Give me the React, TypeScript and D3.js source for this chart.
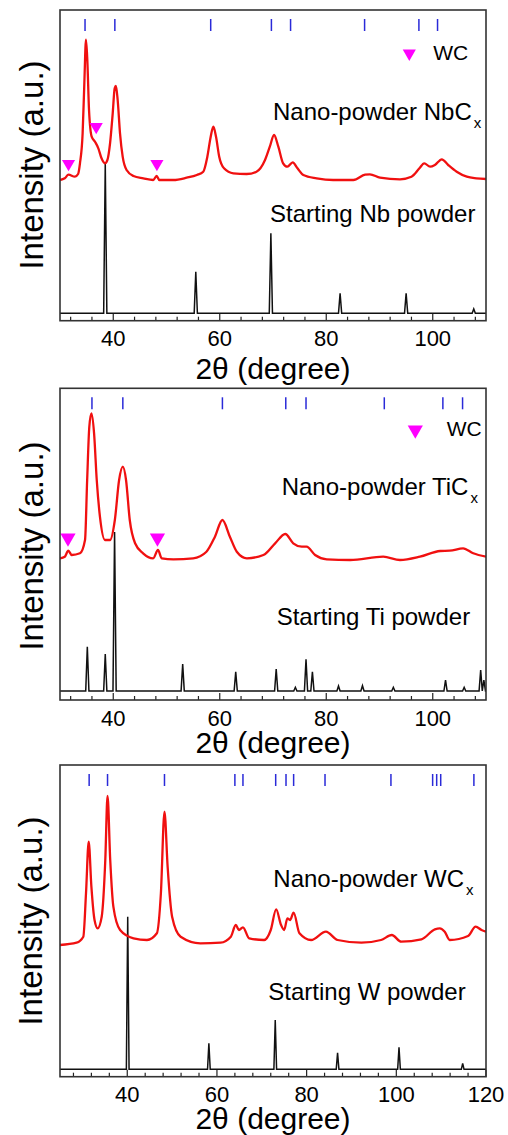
import * as d3 from "d3";

// reference reflections (2θ) drawn as blue bars at the top of each panel
const nbcRefs = [34.7, 40.3, 58.3, 69.7, 73.3, 87.2, 97.4, 100.9];
const ticRefs = [36.0, 41.8, 60.5, 72.4, 76.2, 90.9, 101.9, 105.6];
const wcRefs = [31.5, 35.6, 48.3, 64.0, 65.8, 73.1, 75.4, 77.1, 84.1, 98.8, 108.1, 109.0, 109.9, 117.3];

// WC impurity markers [2θ, intensity]
const nbcWcMarks = [[31.6, 157], [36.8, 194], [48.2, 157]];
const ticWcMarks = [[31.5, 162], [48.3, 162]];

// nano-powder scans [2θ, intensity]
const nbcxScan = [
  [30, 140.7], [30.9, 142.4], [31.6, 146], [32.8, 144], [33.4, 146.7], [33.75, 157.4],
  [34.25, 187.4], [34.57, 237.4], [34.88, 281], [35.13, 260.7], [35.45, 210.7], [35.95, 184],
  [36.57, 179], [37.2, 172.4], [37.8, 162.4], [38.45, 157.4], [38.9, 160.7], [39.4, 177.4],
  [39.9, 207.4], [40.27, 232.4], [40.5, 234.7], [40.83, 220.7], [41.27, 187.4], [41.77, 164],
  [42.5, 150.7], [43.8, 144.7], [45.65, 142.4], [47.5, 140.7], [48.15, 144.7], [48.65, 140.7],
  [51.3, 140.7], [53.8, 143], [55.7, 145.7], [56.9, 149], [57.67, 164], [58.3, 184],
  [58.8, 194], [59.3, 184], [59.9, 164], [60.8, 152.4], [62.55, 147.4], [65.05, 146.7],
  [66.9, 149], [68.5, 160.7], [69.4, 174], [70.2, 185.7], [71.0, 174], [71.9, 157.4],
  [72.7, 154], [73.7, 158.4], [74.6, 152.4], [75.7, 145.7], [78.2, 142.4], [81.3, 140.7],
  [85.1, 140.7], [87.3, 146], [88.2, 146.4], [90.1, 143], [93.85, 141.4], [96.0, 144],
  [97.5, 152.4], [98.4, 157.4], [99.5, 154], [100.4, 155.7], [101.7, 161.4], [102.9, 155.7],
  [104.5, 149], [106.4, 144], [108.2, 142.4], [110, 141.7],
];

const ticxScan = [
  [30, 141.7], [30.9, 143.3], [31.56, 149.3], [32.2, 145], [33.75, 146.7], [34.7, 160],
  [35.1, 220], [35.5, 273], [35.9, 286.7], [36.4, 266.7], [36.9, 220], [37.5, 183.3],
  [38.45, 160], [39.4, 160], [40.3, 180], [41.1, 220], [41.8, 233.3], [42.4, 220],
  [43.1, 180], [44.1, 156.7], [45.6, 146.7], [47.5, 141.7], [48.4, 150], [49.1, 141.7],
  [51.3, 140.7], [55, 141.7], [57.5, 148.3], [59.1, 163.3], [60.5, 180], [61.9, 163.3],
  [63.2, 148.3], [65.1, 141.7], [68.2, 145], [70.4, 156.7], [72.3, 166], [73.8, 156.7],
  [75.4, 153.3], [76.3, 153.3], [77.9, 145], [80.1, 140.7], [84.5, 140], [90.7, 143.3],
  [93.85, 140], [97.6, 143.3], [101.4, 149], [103.2, 149.3], [105.7, 151.7], [107.6, 146.7],
  [110, 143.3],
];

const wcxScan = [
  [25, 131.7], [28.7, 134], [30.2, 140], [30.8, 183.4], [31.4, 235], [32.0, 190],
  [32.7, 156.7], [33.4, 148.4], [34.3, 160], [35.1, 216.7], [35.6, 280.7], [36.2, 216.7],
  [36.9, 170], [38.4, 146.7], [41.4, 138.4], [44.4, 136.7], [46.6, 143.4], [47.5, 183.4],
  [48.3, 265], [49.0, 210], [50.0, 160], [51.9, 140], [56.3, 133.4], [60.8, 134],
  [63.1, 140], [64.2, 151.7], [64.9, 146.7], [65.8, 149.4], [67.2, 138.4], [70.5, 136.7],
  [72.0, 146.7], [73.2, 167.4], [74.3, 151.7], [75.0, 146.7], [75.7, 158.4], [76.3, 156.7],
  [77.1, 164], [78.4, 143.4], [81.0, 136.7], [84.3, 145], [86.9, 136.7], [92.2, 134],
  [96.6, 136.7], [99.0, 141.7], [101.1, 135], [105.6, 137.4], [108.6, 147.4], [109.7, 148.4],
  [110.8, 145], [111.9, 136.7], [116.0, 140.7], [117.7, 150], [119.0, 146.7], [120, 145],
];

// starting powders: sharp reflections [2θ, peak top] on a flat background
const nbPeaks = [[38.5, 158], [55.5, 49], [69.6, 87.4], [82.6, 27.4], [95.0, 27.4], [107.7, 11.7]];
const tiPeaks = [
  [35.13, 53.3], [38.5, 46], [40.25, 168], [53.04, 36], [63.0, 28.3], [70.6, 31],
  [74.2, 12.7], [76.2, 40.7], [77.4, 28.3], [82.3, 14], [86.8, 14.3], [92.6, 12.7],
  [102.4, 20], [105.9, 12.7], [109.0, 30], [109.6, 20],
];
const wPeaks = [[40.1, 160], [58.2, 33.4], [73.0, 56.7], [86.9, 24], [100.6, 29.4], [114.8, 13.4]];
const nbBase = 7.4;
const tiBase = 9;
const wBase = 7.4;

const nbTicks = [40, 60, 80, 100];
const wTicks = [40, 60, 80, 100, 120];

const FONT = "'Liberation Sans', Arial, Helvetica, sans-serif";
const LEFT = 60;
const RIGHT = 486;

function spikes(peaks, base, x0, x1, w) {
  const pts = [[x0, base]];
  peaks.forEach(([p, h]) => pts.push([p - w, base], [p, h], [p + w, base]));
  pts.push([x1, base]);
  return pts;
}

function Panel({ id, top, bottom, domain, ticks, refs, scan, peaks, base, marks, markSize,
  nano, start, legend, labelY, titleY, ytitleY, ytitleX }) {
  const x = d3.scaleLinear().domain(domain).range([LEFT, RIGHT]);
  const y = d3.scaleLinear().domain([0, bottom - top]).range([bottom, top]);
  const minor = d3.range(Math.ceil(domain[0] / 4) * 4, domain[1] + 0.01, 4);

  const redLine = d3.line().x(d => x(d[0])).y(d => y(d[1])).curve(d3.curveMonotoneX);
  const blackLine = d3.line().x(d => x(d[0])).y(d => y(d[1]));
  const tri = d3.symbol(d3.symbolTriangle, markSize)();

  return (
    <g>
      <defs>
        <clipPath id={id}>
          <rect x={LEFT} y={top} width={RIGHT - LEFT} height={bottom - top} />
        </clipPath>
      </defs>
      <g clipPath={`url(#${id})`}>
        <path d={blackLine(spikes(peaks, base, domain[0], domain[1], 0.3))} fill="none" stroke="#111" strokeWidth={1.5} />
        <path d={redLine(scan)} fill="none" stroke="#f01010" strokeWidth={2.3} strokeLinejoin="round" />
      </g>
      {refs.map((r, i) => (
        <line key={i} x1={x(r)} x2={x(r)} y1={top + 9} y2={top + 21} stroke="#2a2ad8" strokeWidth={1.5} />
      ))}
      {marks.map((m, i) => (
        <path key={i} d={tri} transform={`translate(${x(m[0])},${y(m[1])}) rotate(180)`} fill="#ff00ff" />
      ))}
      {minor.map(t => (
        <line key={t} x1={x(t)} x2={x(t)} y1={bottom} y2={bottom - (t % 20 === 0 ? 7 : 4)} stroke="#222" strokeWidth={1.2} />
      ))}
      <rect x={LEFT} y={top} width={RIGHT - LEFT} height={bottom - top} fill="none" stroke="#333" strokeWidth={1.6} />
      {ticks.map(t => (
        <text key={t} x={x(t)} y={labelY} textAnchor="middle" fontSize={22} fontFamily={FONT}>{t}</text>
      ))}
      <text x={(LEFT + RIGHT) / 2} y={titleY} textAnchor="middle" fontSize={30} fontFamily={FONT}>2θ (degree)</text>
      <text transform={`translate(${ytitleX},${ytitleY}) rotate(-90)`} textAnchor="middle" fontSize={33} fontFamily={FONT}>Intensity (a.u.)</text>
      <text x={nano.x} y={nano.y} fontSize={24} fontFamily={FONT}>
        {nano.text}<tspan dx={2} dy={8} fontSize={15}>x</tspan>
      </text>
      <text x={start.x} y={start.y} fontSize={24} fontFamily={FONT}>{start.text}</text>
      {legend && (
        <g>
          <path d={tri} transform={`translate(${legend.tx},${legend.ty}) rotate(180)`} fill="#ff00ff" />
          <text x={legend.x} y={legend.y} fontSize={21} fontFamily={FONT}>WC</text>
        </g>
      )}
    </g>
  );
}

export default function App() {
  return (
    <div style={{ position: "absolute", left: 0, top: 0 }}>
      <svg width={508} height={1135} style={{ display: "block", background: "#fff" }}>
        <Panel id="p1" top={10} bottom={320.7} domain={[30, 110]} ticks={nbTicks} refs={nbcRefs}
          scan={nbcxScan} peaks={nbPeaks} base={nbBase} marks={nbcWcMarks} markSize={75}
          nano={{ x: 273, y: 120, text: "Nano-powder NbC" }}
          start={{ x: 270, y: 221.7, text: "Starting Nb powder" }}
          legend={{ tx: 409.3, ty: 53.3, x: 433.3, y: 60 }}
          labelY={346} titleY={379} ytitleX={43} ytitleY={165} />
        <Panel id="p2" top={388.3} bottom={700} domain={[30, 110]} ticks={nbTicks} refs={ticRefs}
          scan={ticxScan} peaks={tiPeaks} base={tiBase} marks={ticWcMarks} markSize={100}
          nano={{ x: 281.7, y: 495, text: "Nano-powder TiC" }}
          start={{ x: 276.7, y: 625, text: "Starting Ti powder" }}
          legend={{ tx: 415.3, ty: 430, x: 446.7, y: 436 }}
          labelY={725.5} titleY={752.5} ytitleX={43} ytitleY={546} />
        <Panel id="p3" top={765} bottom={1076.7} domain={[25, 120]} ticks={wTicks} refs={wcRefs}
          scan={wcxScan} peaks={wPeaks} base={wBase} marks={[]} markSize={80}
          nano={{ x: 273.3, y: 886.7, text: "Nano-powder WC" }}
          start={{ x: 268.3, y: 1000, text: "Starting W powder" }}
          legend={null}
          labelY={1102} titleY={1129} ytitleX={42} ytitleY={921} />
      </svg>
    </div>
  );
}
